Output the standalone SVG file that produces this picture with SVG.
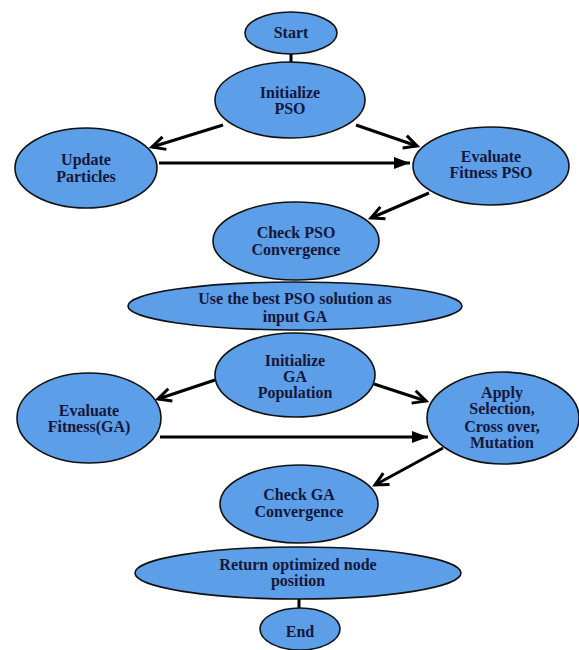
<svg xmlns="http://www.w3.org/2000/svg" width="579" height="650" viewBox="0 0 579 650">
<defs>
<style>
.node ellipse{fill:#5c9ee8;stroke:#111;stroke-width:1.6}
.node text{font-family:"Liberation Serif","Times New Roman",serif;font-weight:bold;font-size:16px;fill:#15173a;text-anchor:middle}
.conn line{stroke:#000;stroke-width:3}
.arr{marker-end:url(#open)}
.arrs{marker-end:url(#solid)}
</style>
<marker id="open" viewBox="0 0 16 16" refX="14" refY="8" markerWidth="16" markerHeight="16" markerUnits="userSpaceOnUse" orient="auto" overflow="visible">
<path d="M1,1.5 L14,8 L1,14.5" fill="none" stroke="#000" stroke-width="3" stroke-linejoin="miter"/>
</marker>
<marker id="solid" viewBox="0 0 16 12" refX="16" refY="6" markerWidth="16" markerHeight="12" markerUnits="userSpaceOnUse" orient="auto">
<path d="M0,0 L16,6 L0,12 z" fill="#000"/>
</marker>
</defs>
<rect width="579" height="650" fill="#ffffff"/>
<g id="connectors" class="conn">
<line x1="291" y1="54" x2="291" y2="63"/>
<line class="arr" x1="223" y1="125" x2="152" y2="147"/>
<line class="arr" x1="356" y1="125" x2="417" y2="146"/>
<line class="arrs" x1="159" y1="163" x2="410" y2="163"/>
<line class="arr" x1="429" y1="193" x2="371" y2="218"/>
<line class="arr" x1="215" y1="380" x2="158" y2="399"/>
<line class="arr" x1="374" y1="384" x2="426" y2="401"/>
<line class="arrs" x1="160" y1="437" x2="428" y2="437"/>
<line class="arr" x1="443" y1="448" x2="375" y2="485"/>
<line x1="299" y1="599" x2="299" y2="609"/>
</g>
<g id="start" class="node"><ellipse cx="291" cy="33" rx="46" ry="21"/><text x="291" y="38">Start</text></g>
<g id="init-pso" class="node"><ellipse cx="290" cy="100" rx="75" ry="38"/><text x="290" y="98">Initialize</text><text x="290" y="114">PSO</text></g>
<g id="update-particles" class="node"><ellipse cx="86" cy="168" rx="71" ry="40"/><text x="86" y="165">Update</text><text x="86" y="182">Particles</text></g>
<g id="eval-pso" class="node"><ellipse cx="491" cy="166" rx="78" ry="39"/><text x="491" y="162">Evaluate</text><text x="491" y="178">Fitness PSO</text></g>
<g id="check-pso" class="node"><ellipse cx="296" cy="241" rx="83" ry="39"/><text x="296" y="238">Check PSO</text><text x="296" y="255">Convergence</text></g>
<g id="use-best" class="node"><ellipse cx="295" cy="306" rx="167" ry="24"/><text x="295" y="304">Use the best PSO solution as</text><text x="295" y="322">input GA</text></g>
<g id="init-ga" class="node"><ellipse cx="295" cy="375" rx="80" ry="42"/><text x="295" y="366">Initialize</text><text x="295" y="382">GA</text><text x="295" y="398">Population</text></g>
<g id="eval-ga" class="node"><ellipse cx="89" cy="418" rx="72" ry="45"/><text x="89" y="416">Evaluate</text><text x="89" y="432">Fitness(GA)</text></g>
<g id="apply" class="node"><ellipse cx="503" cy="418" rx="76" ry="46"/><text x="502" y="398">Apply</text><text x="502" y="414">Selection,</text><text x="502" y="432">Cross over,</text><text x="502" y="448">Mutation</text></g>
<g id="check-ga" class="node"><ellipse cx="299" cy="504" rx="79" ry="39"/><text x="299" y="500">Check GA</text><text x="299" y="517">Convergence</text></g>
<g id="return" class="node"><ellipse cx="298" cy="573" rx="163" ry="26"/><text x="298" y="570">Return optimized node</text><text x="298" y="586">position</text></g>
<g id="end" class="node"><ellipse cx="300" cy="629" rx="40" ry="21"/><text x="300" y="637">End</text></g>
</svg>
